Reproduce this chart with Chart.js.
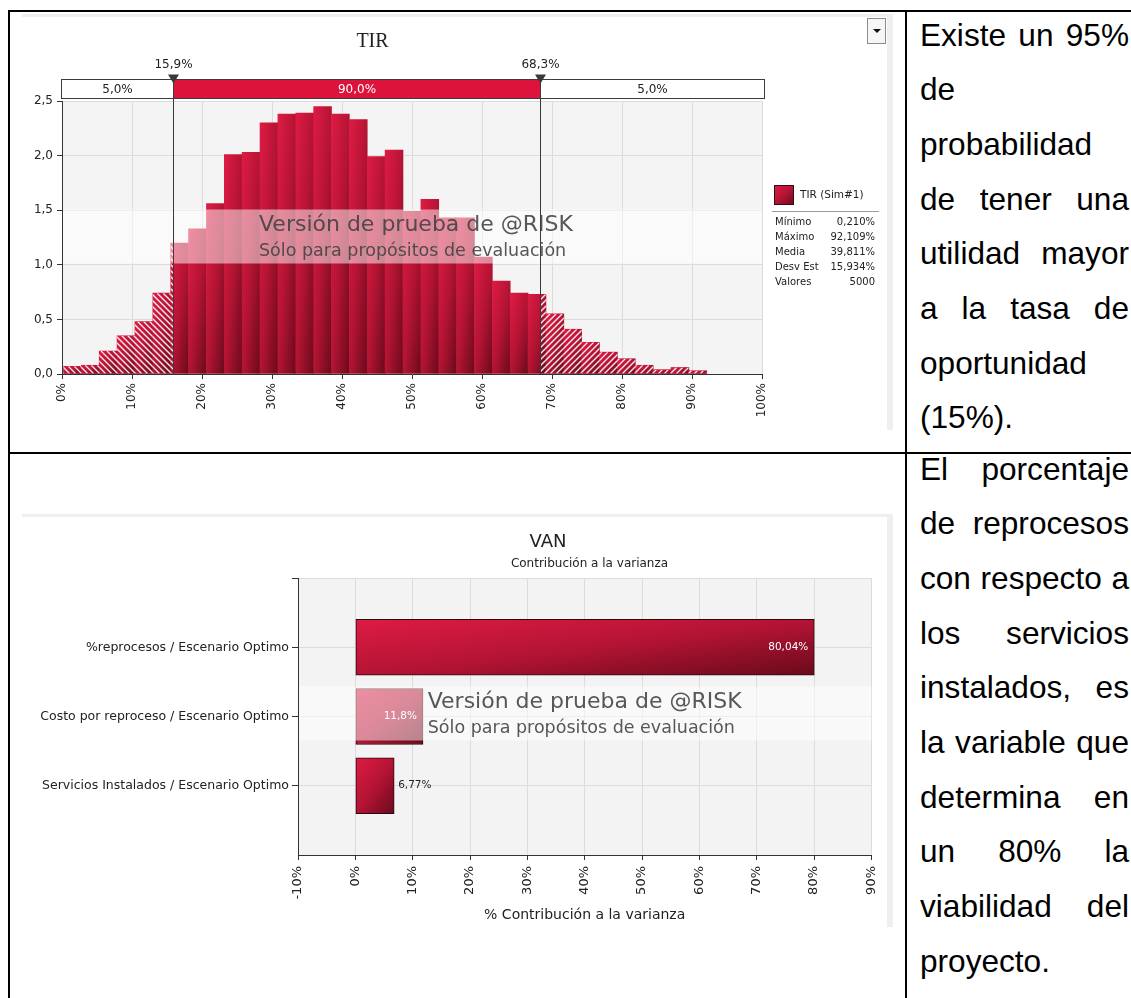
<!DOCTYPE html>
<html lang="es">
<head>
<meta charset="utf-8">
<title>TIR y VAN</title>
<script src="https://cdn.jsdelivr.net/npm/chart.js@4.4.1/dist/chart.umd.min.js"></script>
<style>
  html, body { margin: 0; padding: 0; background: #fff; }
  body { position: relative; width: 1131px; height: 998px; overflow: hidden; }
  .rule { position: absolute; background: #000; }
  .frame { position: absolute; background: #efefef; }
  canvas { position: absolute; }
  .note { position: absolute; left: 920px; width: 209px; font-family: "Liberation Sans", Arial, sans-serif;
          font-size: 31.6px; line-height: 54.7px; text-align: justify; color: #000; }
  .dd { position: absolute; left: 867px; top: 18px; width: 17px; height: 24px; border: 1px solid #8c8c8c; background: #f6f6f6; }
  .dd::after { content: ""; position: absolute; left: 4.5px; top: 10px; border-left: 4px solid transparent;
               border-right: 4px solid transparent; border-top: 4px solid #111; }
</style>
</head>
<body>
<div class="frame" style="left:22px;top:14px;width:871px;height:3px"></div>
<div class="frame" style="left:887px;top:14px;width:6px;height:416px"></div>
<div class="frame" style="left:22px;top:514px;width:871px;height:3px"></div>
<div class="frame" style="left:887px;top:514px;width:6px;height:413px"></div>

<canvas id="tir" width="871" height="416" style="left:22px;top:14px"></canvas>
<canvas id="van" width="871" height="420" style="left:22px;top:515px"></canvas>
<div class="dd"></div>

<div class="rule" style="left:8px;top:10px;width:1123px;height:2px"></div>
<div class="rule" style="left:8px;top:10px;width:2px;height:988px"></div>
<div class="rule" style="left:905px;top:10px;width:2px;height:988px"></div>
<div class="rule" style="left:8px;top:452px;width:1123px;height:2px"></div>

<div class="note" style="top:7.5px">Existe un 95% de probabilidad de tener una utilidad mayor a la tasa de oportunidad (15%).</div>
<div class="note" style="top:441.5px">El porcentaje de reprocesos con respecto a los servicios instalados, es la variable que determina en un 80% la viabilidad del proyecto.</div>

<script>
// ---------- TIR: simulated distribution (density per bin, 36 bins) ----------
const tirBinStart = [0.21, 2.76, 5.32, 7.87, 10.42, 12.97, 15.53, 18.08, 20.63, 23.19, 25.74, 28.29,
                     30.84, 33.40, 35.95, 38.50, 41.05, 43.61, 46.16, 48.71, 51.27, 53.82, 56.37, 58.92,
                     61.48, 64.03, 66.58, 69.13, 71.69, 74.24, 76.79, 79.35, 81.90, 84.45, 87.00, 89.56];
const tirBinEnd = 92.11;
const tirDensity = [0.07, 0.08, 0.21, 0.35, 0.48, 0.74, 1.20, 1.33, 1.56, 2.01, 2.03, 2.30,
                    2.38, 2.39, 2.45, 2.38, 2.33, 1.99, 2.05, 1.49, 1.60, 1.43, 1.43, 1.07,
                    0.85, 0.74, 0.73, 0.55, 0.41, 0.29, 0.20, 0.14, 0.08, 0.04, 0.06, 0.03];
const tirCuts = [15.9, 68.3];
const tirCutShares = ['5,0%', '90,0%', '5,0%'];
const tirSeries = 'TIR (Sim#1)';
const tirStatLabels = ['Mínimo', 'Máximo', 'Media', 'Desv Est', 'Valores'];
const tirStatValues = ['0,210%', '92,109%', '39,811%', '15,934%', '5000'];

// ---------- VAN: contribution to variance ----------
const vanDrivers = ['%reprocesos / Escenario Optimo',
                    'Costo por reproceso / Escenario Optimo',
                    'Servicios Instalados / Escenario Optimo'];
const vanContribution = [80.04, 11.8, 6.77];

// ---------- shared styling ----------
const SANS = '"DejaVu Sans", "Liberation Sans", sans-serif';
const INK = '#222';
const GRID = '#dcdcdc';
const AXIS = '#333';
const RED_LIGHT = '#de1b44';
const RED_MID = '#b51434';
const RED_DARK = '#6a0a1c';
const VAN_BAR = 56;

Chart.defaults.font.family = SANS;
Chart.defaults.color = INK;

const comma = (v, d) => (d === undefined ? String(v) : v.toFixed(d)).replace('.', ',');

// Forward-diagonal gradient over a rectangle: top-left light, bottom-right dark.
function diagonalFill(ctx, x0, y0, w, h) {
  const k = 2 * w * h / (w * w + h * h);
  const g = ctx.createLinearGradient(x0, y0, x0 + h * k, y0 + w * k);
  g.addColorStop(0, RED_LIGHT);
  g.addColorStop(0.5, RED_MID);
  g.addColorStop(1, RED_DARK);
  return g;
}

// Diagonal white hatching inside a rectangle (dir > 0: "\", dir < 0: "/").
function hatch(ctx, x0, y0, x1, y1, dir) {
  if (x1 - x0 < 0.5 || y1 - y0 < 0.5) return;
  const step = 6;
  ctx.save();
  ctx.beginPath();
  ctx.rect(x0, y0, x1 - x0, y1 - y0);
  ctx.clip();
  ctx.strokeStyle = 'rgba(255,255,255,0.9)';
  ctx.lineWidth = 1.3;
  ctx.beginPath();
  if (dir > 0) {
    for (let c = Math.floor((x0 - y1) / step) * step; c < x1 - y0; c += step) {
      ctx.moveTo(c + y0, y0); ctx.lineTo(c + y1, y1);
    }
  } else {
    for (let c = Math.floor((x0 + y0) / step) * step; c < x1 + y1 + step; c += step) {
      ctx.moveTo(c - y0, y0); ctx.lineTo(c - y1, y1);
    }
  }
  ctx.stroke();
  ctx.restore();
}

// Evaluation-copy band laid across the plot area.
function drawWatermark(ctx, area, centerX) {
  const top = area.top + 108.5, h = 54;
  ctx.save();
  ctx.fillStyle = 'rgba(255,255,255,0.5)';
  ctx.fillRect(area.left + 1, top, area.right - area.left - 1, h);
  ctx.fillStyle = 'rgba(64,64,64,0.88)';
  ctx.textAlign = 'left';
  ctx.textBaseline = 'alphabetic';
  ctx.font = '22px ' + SANS;
  const line1 = 'Versión de prueba de @RISK';
  const left = centerX - ctx.measureText(line1).width / 2;
  ctx.fillText(line1, left, top + 21.5);
  ctx.font = '17.5px ' + SANS;
  ctx.fillText('Sólo para propósitos de evaluación', left, top + 46);
  ctx.restore();
}

function fillPlot(chart, color) {
  const { ctx, chartArea: a } = chart;
  ctx.save();
  ctx.fillStyle = color;
  ctx.fillRect(a.left, a.top, a.right - a.left, a.bottom - a.top);
  ctx.restore();
}

// ---------- TIR histogram ----------
const tirDecor = {
  id: 'tirDecor',
  beforeDraw(chart) { fillPlot(chart, '#f4f4f4'); },
  afterDatasetsDraw(chart) {
    const { ctx, chartArea: a, scales: { x } } = chart;
    const cutL = x.getPixelForValue(tirCuts[0]);
    const cutR = x.getPixelForValue(tirCuts[1]);
    chart.getDatasetMeta(0).data.forEach(bar => {
      const p = bar.getProps(['x', 'y', 'base', 'width'], true);
      const l = p.x - p.width / 2, r = p.x + p.width / 2;
      hatch(ctx, l, p.y, Math.min(r, cutL), p.base, 1);
      hatch(ctx, Math.max(l, cutR), p.y, r, p.base, -1);
    });
    drawWatermark(ctx, a, a.left + 354);
    ctx.save();
    ctx.strokeStyle = '#3a3a3a';
    ctx.lineWidth = 1;
    tirCuts.forEach(v => {
      const px = Math.round(x.getPixelForValue(v)) + 0.5;
      ctx.beginPath();
      ctx.moveTo(px, a.top - 22);
      ctx.lineTo(px, a.bottom);
      ctx.stroke();
    });
    ctx.restore();
  },
  afterDraw(chart) {
    const { ctx, chartArea: a, scales: { x } } = chart;
    ctx.save();
    // percentile strip above the plot
    const top = a.top - 21.5, h = 19;
    const edges = [x.left - 1.5, x.getPixelForValue(tirCuts[0]), x.getPixelForValue(tirCuts[1]), x.right + 1.5];
    ctx.lineWidth = 1;
    ctx.strokeStyle = '#3c3c3c';
    ctx.font = '12px ' + SANS;
    ctx.textAlign = 'center';
    ctx.textBaseline = 'middle';
    for (let i = 0; i < 3; i++) {
      const x0 = Math.round(edges[i]) + 0.5, x1 = Math.round(edges[i + 1]) + 0.5;
      ctx.fillStyle = i === 1 ? '#dc143c' : '#fff';
      ctx.fillRect(x0, top, x1 - x0, h);
      ctx.strokeRect(x0, top, x1 - x0, h);
      ctx.fillStyle = i === 1 ? '#fff' : INK;
      ctx.fillText(tirCutShares[i], (x0 + x1) / 2, top + h / 2 + 0.5);
    }
    // delimiter markers and values
    tirCuts.forEach(v => {
      const px = Math.round(x.getPixelForValue(v)) + 0.5;
      ctx.fillStyle = '#3a3a3a';
      ctx.beginPath();
      ctx.moveTo(px - 5.5, top - 5);
      ctx.lineTo(px + 5.5, top - 5);
      ctx.lineTo(px, top + 4);
      ctx.closePath();
      ctx.fill();
      ctx.fillStyle = INK;
      ctx.fillText(comma(v, 1) + '%', px, top - 14.5);
    });
    // title
    ctx.font = '20px "Liberation Serif", serif';
    ctx.fillStyle = INK;
    ctx.fillText('TIR', 350.5, 28);
    // legend with summary statistics
    const lx = a.right + 12, ly = 171;
    ctx.fillStyle = diagonalFill(ctx, lx, ly, 20, 20);
    ctx.fillRect(lx, ly, 20, 20);
    ctx.strokeStyle = '#3a0a12';
    ctx.strokeRect(lx + 0.5, ly + 0.5, 19, 19);
    ctx.fillStyle = INK;
    ctx.textAlign = 'left';
    ctx.font = '10.5px ' + SANS;
    ctx.fillText(tirSeries, lx + 26, ly + 10);
    ctx.strokeStyle = '#9a9a9a';
    ctx.beginPath();
    ctx.moveTo(lx - 2, ly + 26.5);
    ctx.lineTo(lx + 105, ly + 26.5);
    ctx.stroke();
    ctx.font = '10px ' + SANS;
    tirStatLabels.forEach((lab, i) => {
      const y = ly + 37 + i * 15;
      ctx.textAlign = 'left';
      ctx.fillText(lab, lx + 1, y);
      ctx.textAlign = 'right';
      ctx.fillText(tirStatValues[i], lx + 101, y);
    });
    ctx.restore();
  }
};

new Chart(document.getElementById('tir'), {
  type: 'bar',
  data: {
    datasets: [{
      label: tirSeries,
      data: tirDensity.map((d, i) => ({
        x: (tirBinStart[i] + (i + 1 < tirBinStart.length ? tirBinStart[i + 1] : tirBinEnd)) / 2,
        y: d
      })),
      backgroundColor(c) {
        const ch = c.chart;
        if (c.type !== 'data' || !ch.chartArea) return RED_MID;
        const i = c.dataIndex, xs = ch.scales.x, ys = ch.scales.y;
        const x0 = xs.getPixelForValue(tirBinStart[i]);
        const x1 = xs.getPixelForValue(i + 1 < tirBinStart.length ? tirBinStart[i + 1] : tirBinEnd);
        const yt = ys.getPixelForValue(tirDensity[i]);
        const yb = ys.getPixelForValue(0);
        return diagonalFill(ch.ctx, x0, yt, x1 - x0, yb - yt);
      },
      borderWidth: 0,
      barPercentage: 1,
      categoryPercentage: 1
    }]
  },
  options: {
    responsive: false,
    animation: false,
    events: [],
    layout: { padding: { left: 0, right: 131, top: 87, bottom: 0 } },
    plugins: { legend: { display: false }, tooltip: { enabled: false }, title: { display: false } },
    scales: {
      x: {
        type: 'linear', min: 0, max: 100, offset: false,
        ticks: { stepSize: 10, autoSkip: false, minRotation: 90, maxRotation: 90, padding: 4,
                 font: { size: 12 }, color: INK, callback: v => v + '%' },
        grid: { color: GRID, tickColor: AXIS, tickLength: 5, offset: false },
        border: { display: true, color: AXIS },
        afterFit: s => { s.height = 56; }
      },
      y: {
        min: 0, max: 2.5,
        ticks: { stepSize: 0.5, padding: 4, font: { size: 12 }, color: INK, callback: v => comma(v, 1) },
        grid: { color: GRID, tickColor: AXIS, tickLength: 5 },
        border: { display: true, color: AXIS },
        afterFit: s => { s.width = 40; }
      }
    }
  },
  plugins: [tirDecor]
});

// ---------- VAN contribution to variance ----------
const vanDecor = {
  id: 'vanDecor',
  beforeDraw(chart) { fillPlot(chart, '#f3f3f3'); },
  afterDatasetsDraw(chart) {
    const { ctx, chartArea: a } = chart;
    ctx.save();
    ctx.font = '10.5px ' + SANS;
    ctx.textBaseline = 'middle';
    chart.getDatasetMeta(0).data.forEach((bar, i) => {
      const p = bar.getProps(['x', 'y', 'base'], true);
      const text = comma(vanContribution[i]) + '%';
      const w = ctx.measureText(text).width;
      if (p.x - p.base > w + 14) {
        ctx.fillStyle = '#fff';
        ctx.textAlign = 'right';
        ctx.fillText(text, p.x - 6, p.y);
      } else {
        ctx.fillStyle = INK;
        ctx.textAlign = 'left';
        ctx.fillText(text, p.x + 4, p.y);
      }
    });
    ctx.restore();
    drawWatermark(ctx, a, (a.left + a.right) / 2);
  },
  afterDraw(chart) {
    const { ctx } = chart;
    ctx.save();
    ctx.fillStyle = INK;
    ctx.textAlign = 'center';
    ctx.textBaseline = 'middle';
    ctx.font = '18px ' + SANS;
    ctx.fillText('VAN', 526, 27);
    ctx.font = '12px ' + SANS;
    ctx.fillText('Contribución a la varianza', 567.5, 49);
    ctx.restore();
  }
};

new Chart(document.getElementById('van'), {
  type: 'bar',
  data: {
    datasets: [{
      label: 'Contribución a la varianza',
      data: vanContribution.map((v, i) => ({ x: v, y: i + 1 })),
      backgroundColor(c) {
        const ch = c.chart;
        if (c.type !== 'data' || !ch.chartArea) return RED_MID;
        const xs = ch.scales.x, ys = ch.scales.y;
        const x0 = xs.getPixelForValue(0);
        const x1 = xs.getPixelForValue(vanContribution[c.dataIndex]);
        const yc = ys.getPixelForValue(c.dataIndex + 1);
        return diagonalFill(ch.ctx, x0, yc - VAN_BAR / 2, x1 - x0, VAN_BAR);
      },
      borderColor: '#2a080e',
      borderWidth: 1,
      borderSkipped: false,
      barThickness: VAN_BAR
    }]
  },
  options: {
    indexAxis: 'y',
    responsive: false,
    animation: false,
    events: [],
    layout: { padding: { left: 0, right: 12, top: 63, bottom: 0 } },
    plugins: { legend: { display: false }, tooltip: { enabled: false }, title: { display: false } },
    scales: {
      x: {
        type: 'linear', min: -10, max: 90,
        ticks: { stepSize: 10, autoSkip: false, minRotation: 90, maxRotation: 90, padding: 6,
                 font: { size: 13 }, color: INK, callback: v => v + '%' },
        grid: { color: GRID, tickColor: AXIS, tickLength: 5, offset: false },
        border: { display: true, color: AXIS },
        title: { display: true, text: '% Contribución a la varianza', color: INK,
                 font: { size: 14 }, padding: { top: 0, bottom: 11 } },
        afterFit: s => { s.height = 80; }
      },
      y: {
        type: 'linear', min: 0, max: 4, reverse: true, offset: false,
        afterBuildTicks: s => { s.ticks = [0, 1, 2, 3].map(v => ({ value: v })); },
        ticks: { autoSkip: false, padding: 3, font: { size: 12.5 }, color: INK,
                 callback: v => vanDrivers[v - 1] || '' },
        grid: { color: GRID, tickColor: AXIS, tickLength: 6, offset: false },
        border: { display: true, color: AXIS },
        afterFit: s => { s.width = 276; }
      }
    }
  },
  plugins: [vanDecor]
});
</script>
</body>
</html>
